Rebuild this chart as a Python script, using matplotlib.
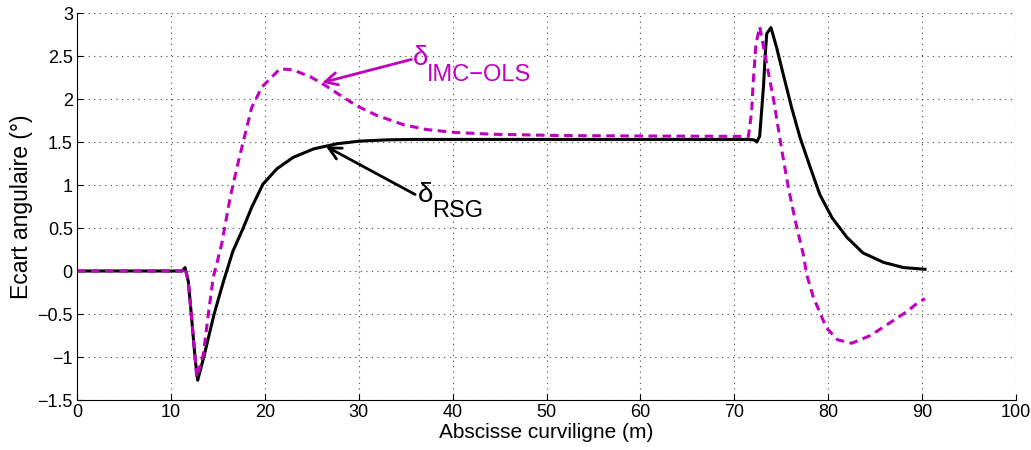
import matplotlib
matplotlib.use("Agg")
import matplotlib.pyplot as plt

plt.rcParams['font.family'] = ['Liberation Sans', 'DejaVu Sans']

# delta RSG (black, solid)
x_rsg = [0, 11.2, 11.5, 11.85, 12.2, 12.57, 12.85, 13.5, 14.6, 15.6, 16.6, 17.7,
         18.6, 19.8, 21.3, 23.0, 25.2, 27.7, 30.1, 33, 36, 45, 60, 71.5, 72.1,
         72.4, 72.7, 73.1, 73.3, 73.45, 73.9, 74.5, 75.2, 76.1, 77.0, 78.1, 79.1,
         80.4, 82.0, 83.7, 85.9, 88.0, 90.3]
y_rsg = [0, 0, 0.04, -0.12, -0.54, -1.01, -1.27, -1.0, -0.5, -0.12, 0.23, 0.50,
         0.74, 1.01, 1.19, 1.32, 1.42, 1.48, 1.51, 1.525, 1.53, 1.53, 1.53, 1.53, 1.525,
         1.50, 1.57, 2.14, 2.53, 2.76, 2.83, 2.60, 2.29, 1.90, 1.55, 1.20, 0.89,
         0.62, 0.39, 0.21, 0.10, 0.04, 0.02]

# delta IMC-OLS (magenta, dashed)
x_imc = [0, 11.2, 11.5, 11.85, 12.2, 12.57, 12.75, 13.45, 14.0, 14.5, 15.4, 16.3,
         17.2, 18.6, 19.7, 21.6, 23.0, 25.0, 26.4, 27.8, 29.8, 31.9, 34.8, 37.2,
         40.4, 44.3, 51.4, 60, 71.5, 71.85, 72.0, 72.3, 72.7, 73.45, 74.2, 75.0,
         75.75, 76.5, 77.35, 77.7, 78.4, 79.8, 81.0, 82.5, 84.5, 86.6, 88.4, 89.3,
         90.3]
y_imc = [0, 0, 0.04, -0.12, -0.54, -1.0, -1.24, -0.97, -0.49, -0.08, 0.31, 0.85,
         1.28, 1.90, 2.14, 2.35, 2.34, 2.25, 2.16, 2.06, 1.92, 1.81, 1.70, 1.645,
         1.61, 1.59, 1.575, 1.57, 1.565, 1.86, 2.18, 2.64, 2.84, 2.41, 1.98, 1.44,
         0.97, 0.58, 0.19, -0.04, -0.30, -0.66, -0.80, -0.84, -0.75, -0.60, -0.47, -0.39,
         -0.32]

xticks = list(range(0, 101, 10))
yticks = [-1.5, -1, -0.5, 0, 0.5, 1, 1.5, 2, 2.5, 3]
ytick_labels = ['\u22121.5', '\u22121', '\u22120.5', '0', '0.5', '1', '1.5', '2', '2.5', '3']

mag = '#BF00BF'

fig = plt.figure(figsize=(10.31, 4.5), dpi=100)
ax = fig.add_axes([0.0747, 0.1111, 0.9108, 0.86])

ax.plot(x_rsg, y_rsg, color='black', lw=2.2, solid_joinstyle='round')
ax.plot(x_imc, y_imc, color=mag, lw=2.2, linestyle=(0, (2.8, 1.8)))

ax.set_xlim(0, 100)
ax.set_ylim(-1.5, 3)
ax.set_xticks(xticks)
ax.set_yticks(yticks)
ax.set_yticklabels(ytick_labels)
ax.tick_params(direction='in', length=4, width=0.8, labelsize=13, pad=3)

for s in ['top', 'right']:
    ax.spines[s].set_visible(False)
for s in ['left', 'bottom']:
    ax.spines[s].set_linewidth(0.8)

ax.grid(True, color='#444444', linestyle=(0, (1, 4)), linewidth=0.8)
ax.set_axisbelow(True)

ax.set_xlabel('Abscisse curviligne (m)', fontsize=15, labelpad=1)
ax.set_ylabel('Ecart angulaire (°)', fontsize=16.5, labelpad=3)

# annotations
ax.annotate('', xy=(26.1, 2.19), xytext=(35.6, 2.46),
            arrowprops=dict(arrowstyle='->', color=mag, lw=2,
                            mutation_scale=22, shrinkA=0, shrinkB=0))
ax.text(35.8, 2.39, '\u03b4', color=mag, fontsize=20, va='baseline')
ax.text(37.3, 2.21, 'IMC\u2212OLS', color=mag, fontsize=17, va='baseline')

ax.annotate('', xy=(26.5, 1.45), xytext=(36.0, 0.89),
            arrowprops=dict(arrowstyle='->', color='black', lw=2,
                            mutation_scale=22, shrinkA=0, shrinkB=0))
ax.text(36.3, 0.80, '\u03b4', color='black', fontsize=20, va='baseline')
ax.text(37.8, 0.63, 'RSG', color='black', fontsize=17, va='baseline')

fig.savefig('out.png', dpi=100)
